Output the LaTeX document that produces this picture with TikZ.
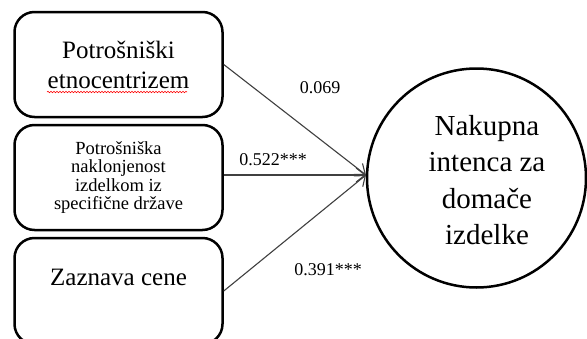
\documentclass[tikz,border=0pt]{standalone}
\usepackage{fontspec}
\setmainfont{Liberation Serif}
\usetikzlibrary{arrows.meta,decorations.pathmorphing}
\begin{document}
\begin{tikzpicture}[x=1pt, y=-1pt,
    box/.style = {draw, line width=2.5pt, rounded corners=20pt,
      minimum width=208pt, align=center, inner sep=0pt},
    link/.style = {draw = black!75, line width=1.1pt,
      -{Straight Barb[length=9pt, width=14pt, line width=1.1pt]}},
    coef/.style = {font=\fontsize{18}{20}\selectfont, inner sep=0pt}
  ]
  \clip (0, 0) rectangle (587, 338);
  \fill [white] (0, 0) rectangle (587, 338);

  % predictors
  \node [box, minimum height=105pt, font=\fontsize{25}{30}\selectfont]
    (etno) at (118.5, 64.5) {Potrošniški\\etnocentrizem};
  \node [box, minimum height=105pt, font=\fontsize{18.5}{18.5}\selectfont]
    (naklon) at (118.5, 177.5) {Potrošniška\\naklonjenost\\izdelkom iz\\specifične države};
  \node [box, minimum height=106pt] (cena) at (118.5, 291) {};
  \node [font=\fontsize{25}{30}\selectfont] (cenatext) at (118.5, 277) {Zaznava cene};
  \draw [red, line width=0.6pt, decorate,
    decoration = {snake, amplitude=0.7pt, segment length=3pt}]
    (47, 92) -- (187, 92);

  % outcome
  \node [draw, circle, line width=2.5pt, minimum size=219pt, inner sep=0pt]
    (namera) at (476.5, 178) {};
  \node [align=center, font=\fontsize{29}{36.5}\selectfont]
    (nameratext) at (487, 180) {Nakupna\\intenca za\\domače\\izdelke};
  \coordinate (tip) at (366, 175);

  % paths
  \draw [link] (etno.east) -- (tip);
  \draw [link] (naklon.east |- tip) -- (tip);
  \draw [link] (cena.east) -- (tip);
  \node [coef] (c1) at (320, 88) {0.069};
  \node [coef] (c2) at (273, 160) {0.522***};
  \node [coef] (c3) at (328, 270) {0.391***};
\end{tikzpicture}
\end{document}
